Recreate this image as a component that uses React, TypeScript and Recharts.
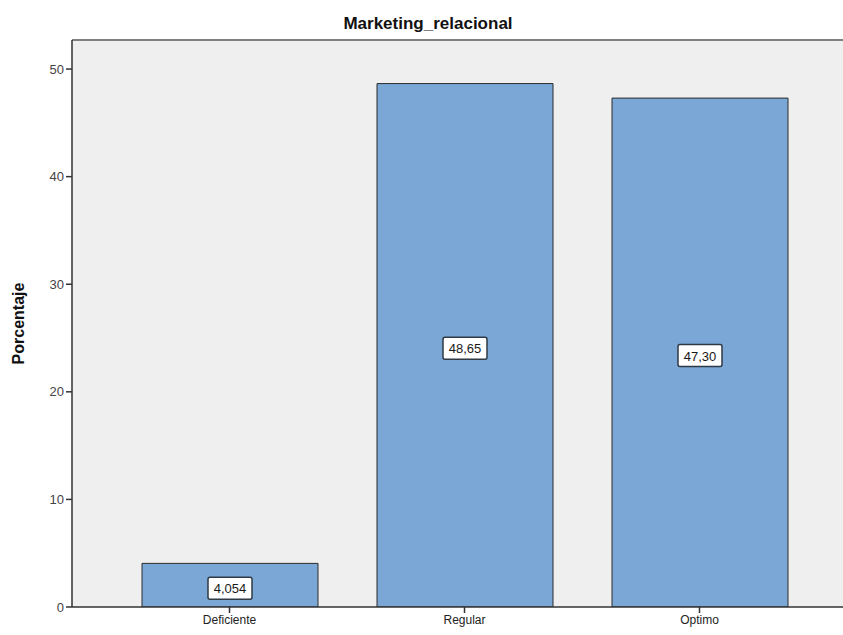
import {
  BarChart, Bar, XAxis, YAxis, CartesianGrid, ReferenceLine, LabelList,
} from "recharts";

const categories = ["Deficiente", "Regular", "Optimo"];
const porcentajes = [4.054, 48.65, 47.3];
const yTicks = [0, 10, 20, 30, 40, 50];

const data = categories.map((c, i) => ({ categoria: c, porcentaje: porcentajes[i] }));

const FONT = "'Liberation Sans', Arial, sans-serif";
const Y_MAX = 52.7;

// boxed value label in the middle of each bar (SPSS style)
const ValueBox = (props: any) => {
  const { x, y, width, height, value } = props;
  const txt = Number(value).toPrecision(4).replace(".", ",");
  const cx = x + width / 2;
  const cy = y + height / 2 + 3;
  const w = txt.length * 7.6 + 6;
  return (
    <g>
      <rect x={cx - w / 2} y={cy - 11} width={w} height={22} rx={2}
        fill="#ffffff" stroke="#2f3a44" strokeWidth={1.5} />
      <text x={cx} y={cy + 5} textAnchor="middle" fontSize={13}
        fontFamily={FONT} fill="#1a1a1a">{txt}</text>
    </g>
  );
};

const YLabel = (props: any) => {
  const { viewBox } = props;
  const x = viewBox.x + 24;
  const y = viewBox.y + viewBox.height / 2;
  return (
    <text x={x} y={y} transform={`rotate(-90, ${x}, ${y})`} textAnchor="middle"
      fontSize={16} fontWeight="bold" fontFamily={FONT} fill="#111">Porcentaje</text>
  );
};

const App = () => {
  return (
    <div style={{ position: "fixed", left: 0, top: 0, width: 843, height: 635, background: "#fff" }}>
      <svg width={843} height={40} style={{ position: "absolute", left: 0, top: 0 }}>
        <text x={428} y={29} textAnchor="middle" fontSize={17} fontWeight="bold"
          fontFamily={FONT} fill="#111">Marketing_relacional</text>
      </svg>
      <div style={{ position: "absolute", left: 0, top: 0 }}>
        <BarChart width={843} height={635} data={data}
          margin={{ top: 40, right: 0, bottom: 0, left: 0 }}>
          <CartesianGrid fill="#efefef" stroke="none" horizontal={false} vertical={false} />
          <ReferenceLine y={Y_MAX} stroke="#808080" strokeWidth={2} />
          <XAxis
            dataKey="categoria"
            padding={{ left: 40, right: 26 }}
            axisLine={{ stroke: "#333", strokeWidth: 1.5 }}
            tickLine={{ stroke: "#333", strokeWidth: 1.5 }}
            tickSize={6}
            tick={{ fontSize: 12, fill: "#222", fontFamily: FONT }}
            height={28}
          />
          <YAxis
            width={72}
            domain={[0, Y_MAX]}
            ticks={yTicks}
            allowDataOverflow
            axisLine={{ stroke: "#333", strokeWidth: 1.5 }}
            tickLine={{ stroke: "#333", strokeWidth: 1.5 }}
            tickSize={6}
            tick={{ fontSize: 13, fill: "#444", fontFamily: FONT }}
            label={<YLabel />}
          />
          <Bar dataKey="porcentaje" fill="#7aa7d6" stroke="#2b2b2b" strokeWidth={1}
            barSize={176} isAnimationActive={false}>
            <LabelList dataKey="porcentaje" content={<ValueBox />} />
          </Bar>
        </BarChart>
      </div>
    </div>
  );
};

export default App;
